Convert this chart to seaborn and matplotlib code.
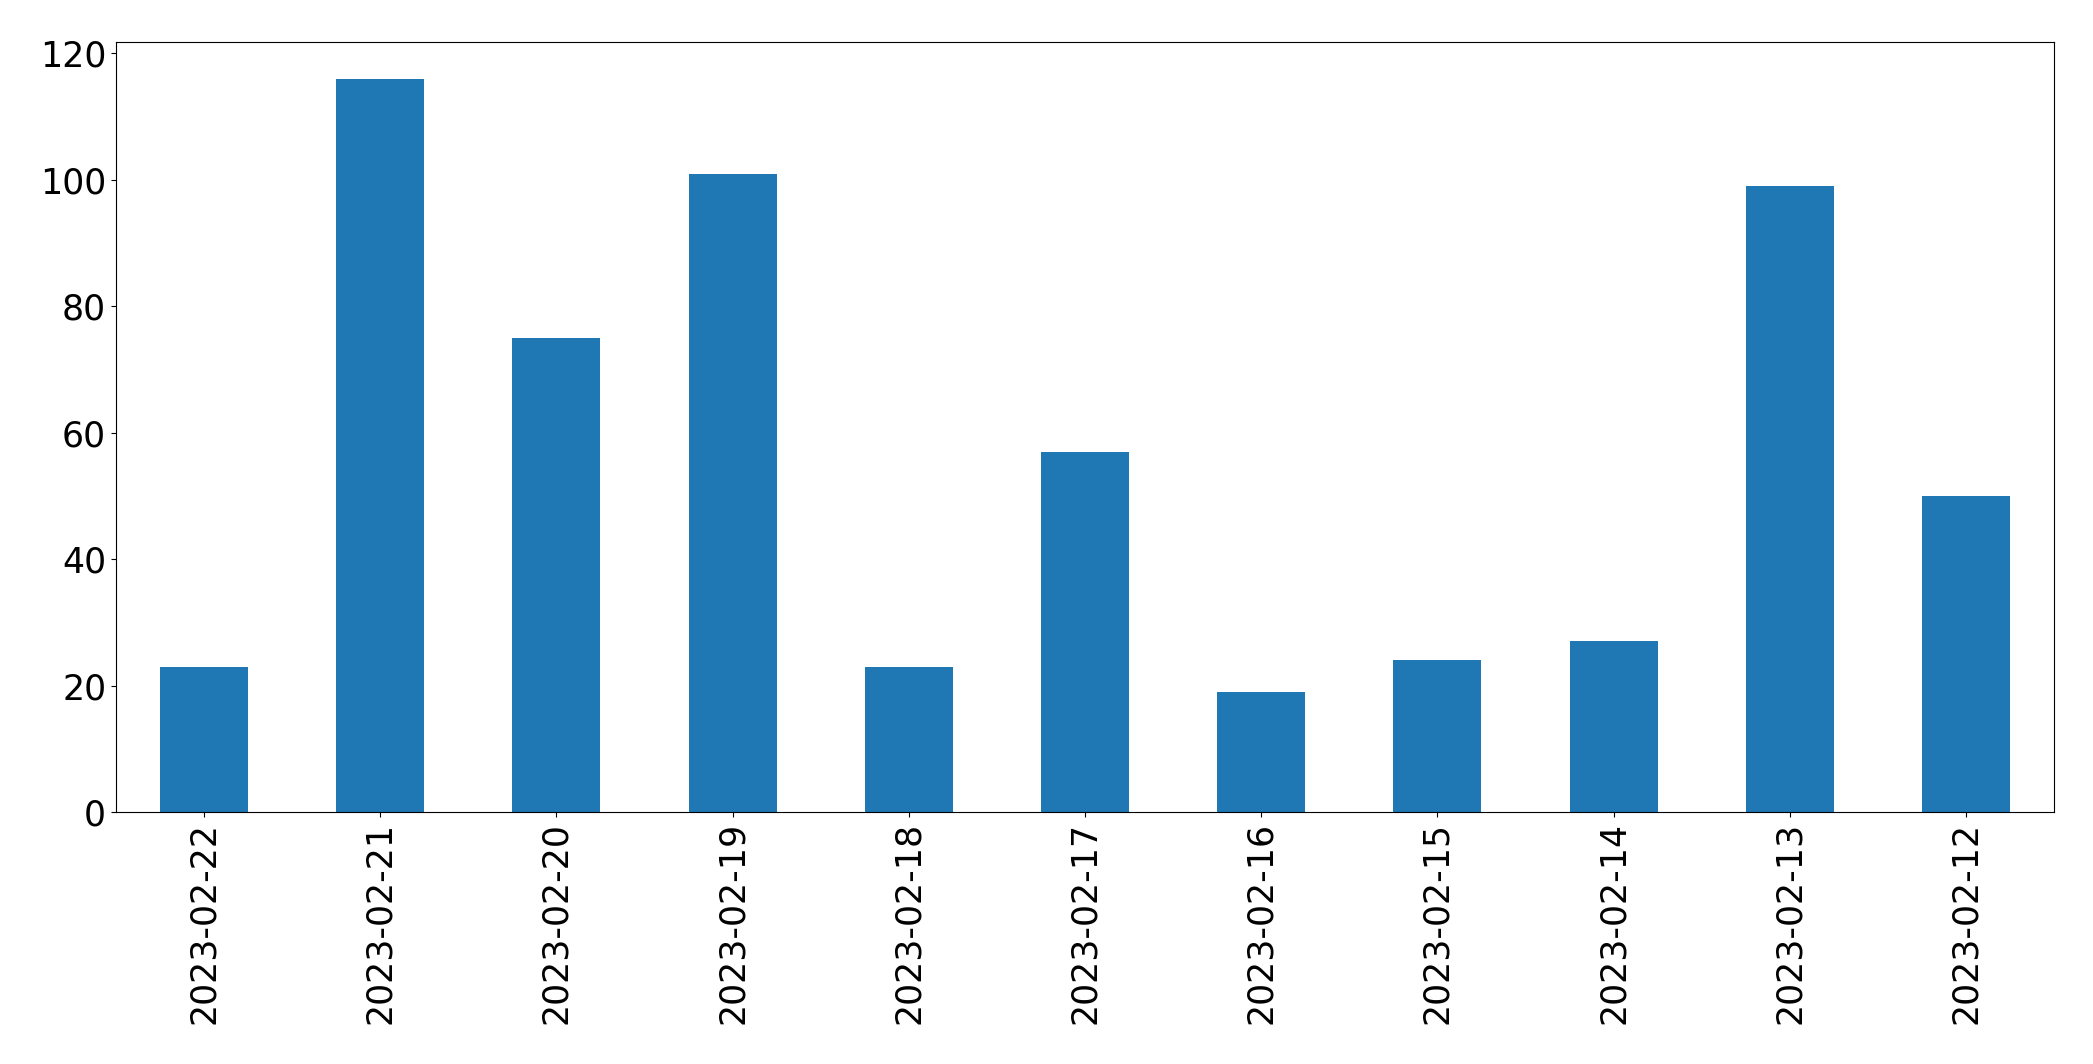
import matplotlib
matplotlib.use("Agg")
import matplotlib.pyplot as plt
import pandas as pd
import seaborn as sns

dates = ["2023-02-22", "2023-02-21", "2023-02-20", "2023-02-19", "2023-02-18",
         "2023-02-17", "2023-02-16", "2023-02-15", "2023-02-14", "2023-02-13",
         "2023-02-12"]
counts = [23, 116, 75, 101, 23, 57, 19, 24, 27, 99, 50]

df = pd.DataFrame({"date": dates, "count": counts})

fig, ax = plt.subplots(figsize=(20.93, 10.64), dpi=100)
sns.barplot(data=df, x="date", y="count", order=dates, color="#1f77b4",
            saturation=1, width=0.5, ax=ax)

ax.set_xlabel("")
ax.set_ylabel("")
ax.set_ylim(0, max(counts) * 1.05)
ax.set_xlim(-0.5, len(dates) - 0.5)
ax.tick_params(axis="both", labelsize=25)
plt.xticks(rotation=90)
for s in ax.spines.values():
    s.set_visible(True)

fig.subplots_adjust(left=0.0554, right=0.9814, top=0.9605, bottom=0.2368)
fig.savefig("out.png", dpi=100)
